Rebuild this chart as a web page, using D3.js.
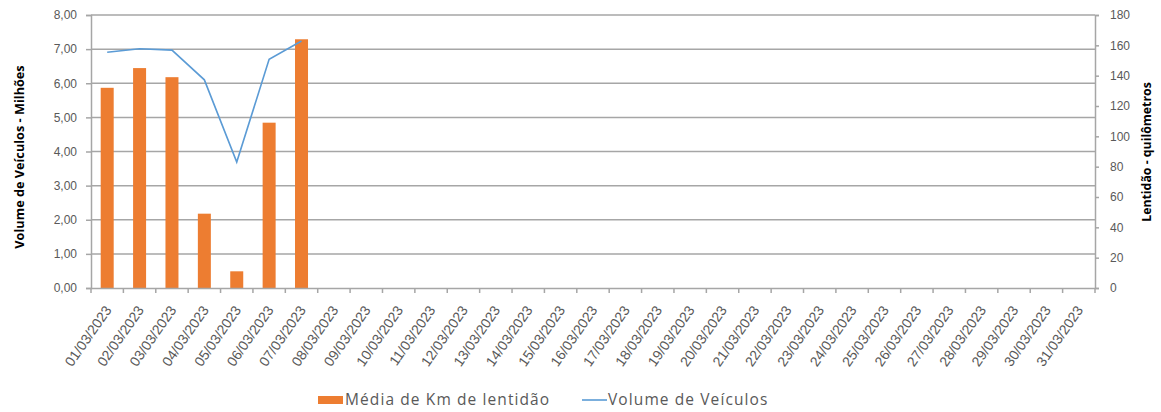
<!DOCTYPE html>
<html>
<head>
<meta charset="utf-8">
<script src="https://cdn.jsdelivr.net/npm/d3@7"></script>
<style>
  body { margin: 0; background: #fff; }
  svg { font-family: "Open Sans", "Liberation Sans", sans-serif; }
</style>
</head>
<body>
<div id="chart"></div>
<script>
const days = d3.range(1, 32).map(function (d) { return String(d).padStart(2, "0") + "/03/2023" })
const kmLentidao = [132, 145, 139, 49, 11, 109, 164]
const volumeMilhoes = [6.91, 7.01, 6.97, 6.10, 3.69, 6.70, 7.24]
const leftTicks = [0, 1, 2, 3, 4, 5, 6, 7, 8]
const rightTicks = [0, 20, 40, 60, 80, 100, 120, 140, 160, 180]

const width = 1161, height = 412
const margin = { top: 15, right: 66, bottom: 124, left: 91 }
const iw = width - margin.left - margin.right
const ih = height - margin.top - margin.bottom

const svg = d3.select("#chart").append("svg")
    .attr("width", width)
    .attr("height", height)

const g = svg.append("g")
    .attr("transform", "translate(" + margin.left + "," + margin.top + ")")

const xb = d3.scaleBand().domain(days).range([0, iw])
const yLeft = d3.scaleLinear().domain([0, 8]).range([ih, 0])
const yRight = d3.scaleLinear().domain([0, 180]).range([ih, 0])

const grey = "#a6a6a6"
const textColor = "#595959"

// grid
g.append("g")
    .selectAll("line")
    .data(leftTicks.slice(1))
    .enter().append("line")
    .attr("x1", 0).attr("x2", iw)
    .attr("y1", function (d) { return yLeft(d) }).attr("y2", function (d) { return yLeft(d) })
    .style("stroke", grey)
    .style("stroke-width", 1.5)

// bars (km, right axis)
g.append("g")
    .selectAll("rect")
    .data(kmLentidao)
    .enter().append("rect")
    .attr("x", function (d, i) { return xb(days[i]) + xb.bandwidth() / 2 - 6.5 })
    .attr("width", 13)
    .attr("y", function (d) { return yRight(d) })
    .attr("height", function (d) { return ih - yRight(d) })
    .style("fill", "#ed7d31")

// line (volume, left axis)
const line = d3.line()
    .x(function (d, i) { return xb(days[i]) + xb.bandwidth() / 2 })
    .y(function (d) { return yLeft(d) })

g.append("path")
    .datum(volumeMilhoes)
    .attr("d", line)
    .style("fill", "none")
    .style("stroke", "#5b9bd5")
    .style("stroke-width", 1.6)

// left axis
const leftAxis = g.append("g")
    .call(d3.axisLeft(yLeft).tickValues(leftTicks).tickSize(5).tickPadding(9)
        .tickFormat(function (d) { return d3.format(".2f")(d).replace(".", ",") }))
leftAxis.selectAll("path, line").style("stroke", grey).style("stroke-width", 1.5)
leftAxis.selectAll("text").style("fill", textColor).style("font-size", "12px")

// right axis
const rightAxis = g.append("g")
    .attr("transform", "translate(" + iw + ",0)")
    .call(d3.axisRight(yRight).tickValues(rightTicks).tickSize(4).tickPadding(11))
rightAxis.selectAll("path, line").style("stroke", grey).style("stroke-width", 1.5)
rightAxis.selectAll("text").style("fill", textColor).style("font-size", "12px")

// bottom axis
const bottomAxis = g.append("g")
    .attr("transform", "translate(0," + ih + ")")
    .call(d3.axisBottom(xb).tickSize(0).tickPadding(0))
bottomAxis.select(".domain").style("stroke", grey).style("stroke-width", 1.5)
bottomAxis.selectAll(".tick text")
    .style("fill", textColor)
    .style("font-size", "14px")
    .attr("text-anchor", "end")
    .attr("y", 0)
    .attr("dy", 0)
    .attr("transform", "translate(5,22) rotate(-55)")

// boundary ticks between categories
g.append("g")
    .selectAll("line")
    .data(d3.range(0, days.length + 1))
    .enter().append("line")
    .attr("x1", function (d) { return d * xb.step() }).attr("x2", function (d) { return d * xb.step() })
    .attr("y1", ih).attr("y2", ih + 5)
    .style("stroke", grey)
    .style("stroke-width", 1.5)

// axis titles
svg.append("text")
    .attr("transform", "translate(20,157) rotate(-90)")
    .attr("text-anchor", "middle")
    .attr("dy", "0.35em")
    .style("font-size", "12.7px")
    .style("font-weight", "bold")
    .style("fill", "#000")
    .text("Volume de Veículos  - Milhões")

svg.append("text")
    .attr("transform", "translate(1147,152) rotate(-90)")
    .attr("text-anchor", "middle")
    .attr("dy", "0.35em")
    .style("font-size", "12.3px")
    .style("font-weight", "bold")
    .style("fill", "#000")
    .text("Lentidão - quilômetros")

// legend
const legend = svg.append("g").attr("transform", "translate(318,400)")
legend.append("rect")
    .attr("x", 0).attr("y", -4).attr("width", 25).attr("height", 8)
    .style("fill", "#ed7d31")
legend.append("text")
    .attr("x", 27).attr("y", 0).attr("dy", "0.35em")
    .style("font-size", "15.5px").style("letter-spacing", "1.1px").style("fill", textColor)
    .text("Média de Km de lentidão")
legend.append("line")
    .attr("x1", 264).attr("x2", 289).attr("y1", 0).attr("y2", 0)
    .style("stroke", "#5b9bd5").style("stroke-width", 1.6)
legend.append("text")
    .attr("x", 290).attr("y", 0).attr("dy", "0.35em")
    .style("font-size", "15.5px").style("letter-spacing", "1.1px").style("fill", textColor)
    .text("Volume de Veículos")
</script>
</body>
</html>
